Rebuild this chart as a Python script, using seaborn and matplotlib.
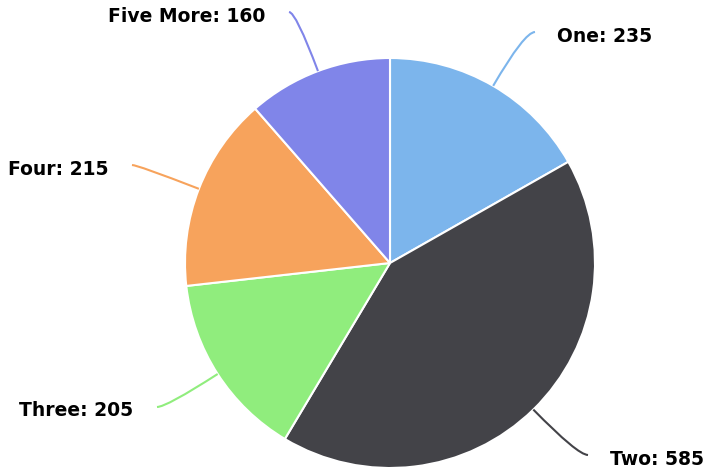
import numpy as np
import matplotlib
matplotlib.use("Agg")
import matplotlib.pyplot as plt
from matplotlib.path import Path
from matplotlib.patches import PathPatch
import seaborn as sns

# Data
categories = ["One", "Two", "Three", "Four", "Five More"]
values = [235, 585, 205, 215, 160]
colors = ["#7cb5ec", "#434348", "#90ed7d", "#f7a35c", "#8085e9"]

sns.set_theme(style="white")
plt.rcParams["font.family"] = ["DejaVu Sans"]
palette = sns.color_palette(colors)

W, H = 703, 469
fig = plt.figure(figsize=(W / 100, H / 100), dpi=100)
ax = fig.add_axes([0, 0, 1, 1])

cx, cy, r = 390, H - 263, 205
ax.pie(values, colors=palette, startangle=90, counterclock=False,
       center=(cx, cy), radius=r,
       wedgeprops=dict(edgecolor="white", linewidth=1.5))
ax.set_xlim(0, W)
ax.set_ylim(0, H)
ax.set_aspect("equal")
ax.axis("off")

# Label end points of connectors (pixel coordinates, y from top)
label_ends = [(535, 32), (588, 455), (157, 407), (132, 165), (289, 12)]

total = sum(values)
start = 0.0
for cat, val, col, (ex, ey) in zip(categories, values, palette, label_ends):
    frac = val / total
    mid = (start + frac / 2) * 2 * np.pi  # clockwise from top
    start += frac
    dx, dy = np.sin(mid), np.cos(mid)  # in data coords (y up)
    px, py = cx + r * dx, cy + r * dy
    ey_d = H - ey
    t = (ey_d - py) / dy if abs(dy) > 1e-6 else 40
    ctrl = (px + dx * t, py + dy * t)
    path = Path([(px, py), ctrl, (ex, ey_d)], [Path.MOVETO, Path.CURVE3, Path.CURVE3])
    ax.add_patch(PathPatch(path, facecolor="none", edgecolor=col, lw=1.5))
    right = dx > 0
    ax.text(ex + (22 if right else -24), ey_d - 4, f"{cat}: {val}",
            ha="left" if right else "right", va="center",
            fontsize=13.5, fontweight="bold", color="black")

fig.savefig("out.png", dpi=100, facecolor="white")
